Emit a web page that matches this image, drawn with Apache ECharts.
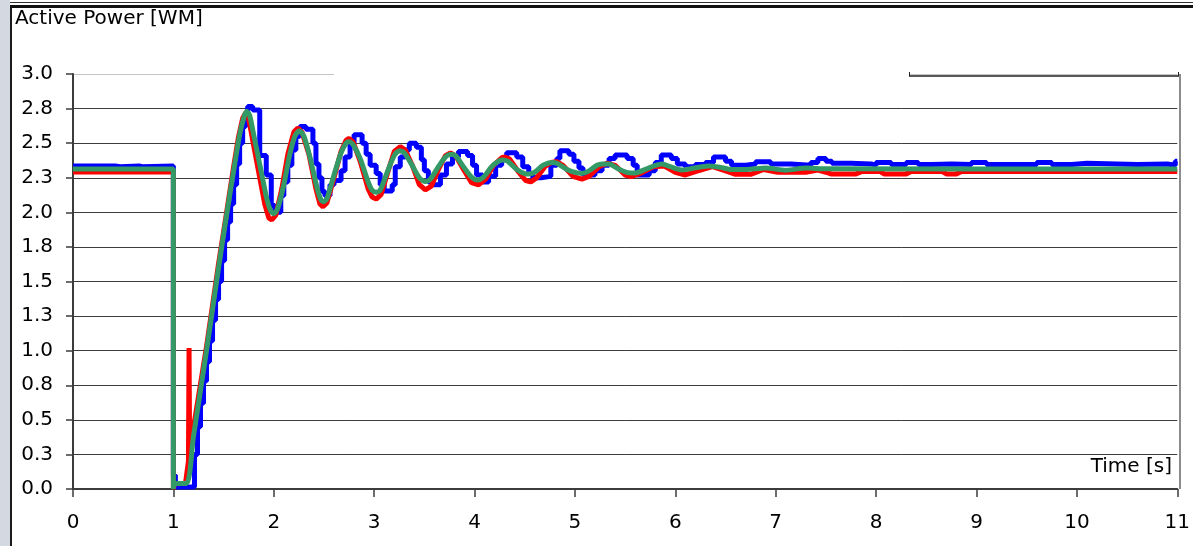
<!DOCTYPE html>
<html>
<head>
<meta charset="utf-8">
<title>Active Power</title>
<script src="https://cdn.jsdelivr.net/npm/echarts@6/dist/echarts.min.js"></script>
<style>
  html, body { margin: 0; padding: 0; background: #ffffff; }
  #chart { width: 1193px; height: 546px; }
</style>
</head>
<body>
<div id="chart"></div>
<script>
// Axis tick labels (Excel-style rounding of the 0.25 steps)
const yTickLabels = ['0.0', '0.3', '0.5', '0.8', '1.0', '1.3', '1.5', '1.8', '2.0', '2.3', '2.5', '2.8', '3.0'];
const xTickLabels = ['0', '1', '2', '3', '4', '5', '6', '7', '8', '9', '10', '11'];

// Measured response (sample-and-hold), [time s, power]
const blueSeries = [
  [0, 2.335], [0.42, 2.33], [0.47, 2.335], [0.66, 2.33], [0.69, 2.335], [1.0, 0.1], [1.02, 0.015],
  [1.21, 0.25], [1.24, 0.45], [1.27, 0.62], [1.30, 0.78], [1.33, 0.92], [1.36, 1.07],
  [1.39, 1.22], [1.42, 1.37], [1.45, 1.5], [1.48, 1.65], [1.51, 1.8], [1.54, 1.93],
  [1.57, 2.06], [1.60, 2.2], [1.63, 2.35], [1.66, 2.5], [1.69, 2.62], [1.72, 2.7],
  [1.74, 2.765], [1.79, 2.74], [1.86, 2.41], [1.925, 2.27], [1.975, 2.05], [2.01, 2.0],
  [2.07, 2.12], [2.10, 2.22], [2.14, 2.34], [2.18, 2.45], [2.22, 2.55], [2.26, 2.62],
  [2.32, 2.60], [2.39, 2.50], [2.42, 2.35], [2.45, 2.25], [2.48, 2.15], [2.51, 2.12],
  [2.56, 2.2], [2.60, 2.23], [2.67, 2.30], [2.71, 2.40], [2.76, 2.50], [2.80, 2.56],
  [2.88, 2.50], [2.92, 2.42], [2.96, 2.34], [3.02, 2.28], [3.06, 2.2], [3.10, 2.155],
  [3.18, 2.2], [3.21, 2.33], [3.26, 2.40], [3.31, 2.45], [3.35, 2.50], [3.42, 2.47],
  [3.47, 2.38], [3.50, 2.30], [3.54, 2.22], [3.58, 2.20], [3.66, 2.27], [3.72, 2.35],
  [3.78, 2.40], [3.84, 2.44], [3.93, 2.41], [3.98, 2.34], [4.02, 2.27], [4.08, 2.22],
  [4.14, 2.26], [4.21, 2.34], [4.27, 2.39], [4.32, 2.43], [4.42, 2.40], [4.48, 2.33],
  [4.54, 2.28], [4.58, 2.25], [4.66, 2.26], [4.76, 2.34], [4.82, 2.39], [4.85, 2.445],
  [4.94, 2.42], [4.99, 2.37], [5.04, 2.32], [5.08, 2.27], [5.2, 2.30], [5.27, 2.34],
  [5.34, 2.39], [5.40, 2.415], [5.52, 2.39], [5.58, 2.34], [5.62, 2.27], [5.74, 2.30],
  [5.8, 2.36], [5.86, 2.415], [5.96, 2.39], [6.02, 2.35], [6.1, 2.33], [6.2, 2.345],
  [6.3, 2.36], [6.38, 2.40], [6.5, 2.37], [6.56, 2.34], [6.7, 2.35], [6.8, 2.366],
  [6.95, 2.35], [7.15, 2.34], [7.35, 2.36], [7.42, 2.39], [7.5, 2.37], [7.56, 2.355],
  [7.75, 2.35], [7.95, 2.34], [8.0, 2.36], [8.15, 2.345], [8.3, 2.36], [8.42, 2.345],
  [8.55, 2.35], [8.75, 2.345], [8.95, 2.36], [9.1, 2.345], [9.6, 2.36], [9.75, 2.345],
  [9.95, 2.355], [10.1, 2.345], [10.6, 2.35], [10.9, 2.34], [10.98, 2.37], [11, 2.37]
];

// Detailed model response, [time s, power]
const redSeries = [
  [0, 2.292], [1.0, 2.292], [1.0, 0.0], [1.01, 0.04], [1.12, 0.04], [1.15, 0.2],
  [1.156, 1.02], [1.162, 0.27], [1.33, 1.03], [1.45, 1.63], [1.53, 2.0], [1.60, 2.33],
  [1.65, 2.55], [1.69, 2.68], [1.72, 2.72], [1.75, 2.68], [1.79, 2.52], [1.85, 2.29],
  [1.91, 2.06], [1.95, 1.96], [1.98, 1.945], [2.02, 1.98], [2.08, 2.17], [2.14, 2.42],
  [2.20, 2.58], [2.24, 2.61], [2.28, 2.58], [2.35, 2.42], [2.42, 2.17], [2.46, 2.06],
  [2.49, 2.04], [2.53, 2.07], [2.60, 2.25], [2.67, 2.44], [2.72, 2.52], [2.75, 2.535],
  [2.79, 2.51], [2.86, 2.37], [2.94, 2.17], [2.98, 2.11], [3.02, 2.096], [3.07, 2.13],
  [3.14, 2.3], [3.20, 2.44], [3.26, 2.475], [3.31, 2.45], [3.38, 2.34], [3.45, 2.2],
  [3.51, 2.163], [3.57, 2.19], [3.64, 2.31], [3.71, 2.41], [3.76, 2.43], [3.81, 2.41],
  [3.89, 2.31], [3.97, 2.215], [4.04, 2.198], [4.11, 2.24], [4.19, 2.34], [4.27, 2.395],
  [4.30, 2.40], [4.35, 2.385], [4.44, 2.29], [4.51, 2.23], [4.56, 2.22], [4.62, 2.25],
  [4.70, 2.33], [4.77, 2.362], [4.82, 2.366], [4.88, 2.34], [4.98, 2.26], [5.07, 2.24],
  [5.14, 2.26], [5.24, 2.33], [5.32, 2.355], [5.40, 2.34], [5.50, 2.27], [5.56, 2.258],
  [5.65, 2.28], [5.78, 2.33], [5.89, 2.335], [6.0, 2.29], [6.1, 2.27], [6.2, 2.295],
  [6.37, 2.33], [6.5, 2.30], [6.6, 2.275], [6.75, 2.275], [6.88, 2.31], [7.02, 2.29],
  [7.3, 2.29], [7.42, 2.305], [7.5, 2.29], [7.55, 2.278], [7.8, 2.278], [7.86, 2.295],
  [8.04, 2.295], [8.08, 2.278], [8.3, 2.278], [8.35, 2.295], [8.66, 2.295], [8.7, 2.278],
  [8.8, 2.278], [8.85, 2.295], [11, 2.295]
];

// Reduced model response, [time s, power]
const greenSeries = [
  [0, 2.313], [1.0, 2.313], [1.0, 0.0], [1.01, 0.04], [1.13, 0.04], [1.20, 0.38],
  [1.33, 1.0], [1.45, 1.6], [1.53, 1.98], [1.60, 2.3], [1.66, 2.56], [1.70, 2.68],
  [1.73, 2.73], [1.76, 2.70], [1.80, 2.56], [1.865, 2.33], [1.93, 2.1], [1.97, 2.01],
  [2.0, 1.99], [2.04, 2.03], [2.10, 2.2], [2.16, 2.42], [2.21, 2.55], [2.255, 2.59],
  [2.30, 2.55], [2.36, 2.4], [2.43, 2.18], [2.47, 2.09], [2.495, 2.077], [2.53, 2.1],
  [2.60, 2.27], [2.67, 2.43], [2.72, 2.50], [2.75, 2.51], [2.79, 2.49], [2.86, 2.39],
  [2.94, 2.22], [2.98, 2.16], [3.02, 2.145], [3.06, 2.16], [3.13, 2.29], [3.20, 2.41],
  [3.25, 2.446], [3.30, 2.43], [3.37, 2.35], [3.45, 2.25], [3.51, 2.222], [3.56, 2.24],
  [3.64, 2.33], [3.71, 2.40], [3.76, 2.42], [3.81, 2.41], [3.89, 2.33], [3.97, 2.255],
  [4.03, 2.234], [4.09, 2.255], [4.17, 2.33], [4.24, 2.37], [4.28, 2.378], [4.33, 2.37],
  [4.42, 2.31], [4.50, 2.28], [4.54, 2.277], [4.60, 2.29], [4.68, 2.34], [4.74, 2.358],
  [4.77, 2.36], [4.82, 2.355], [4.92, 2.31], [5.02, 2.285], [5.07, 2.282], [5.14, 2.30],
  [5.22, 2.34], [5.27, 2.35], [5.34, 2.35], [5.43, 2.315], [5.53, 2.287], [5.60, 2.285],
  [5.70, 2.31], [5.80, 2.34], [5.87, 2.35], [5.95, 2.33], [6.06, 2.306], [6.15, 2.315],
  [6.33, 2.335], [6.45, 2.325], [6.56, 2.31], [6.7, 2.31], [6.9, 2.32], [7.1, 2.305],
  [7.3, 2.32], [7.5, 2.315], [11, 2.313]
];

const FONT = 'DejaVu Sans';
const chart = echarts.init(document.getElementById('chart'), null, { renderer: 'canvas' });

// Grid line colours, bottom to top; the top line is a faint frame edge
const splitColors = yTickLabels.map((_, i) => (i === yTickLabels.length - 1 ? '#c4c4c4' : '#3c3c3c'));

chart.setOption({
  animation: false,
  backgroundColor: '#ffffff',
  grid: { left: 73, right: 13, top: 74, bottom: 57, containLabel: false },
  xAxis: {
    type: 'value',
    min: 0,
    max: 11,
    interval: 1,
    axisLine: { show: true, onZero: false, lineStyle: { color: '#3c3c3c', width: 2 } },
    axisTick: { show: true, inside: false, length: 8, lineStyle: { color: '#3c3c3c', width: 1.5 } },
    axisLabel: {
      margin: 24,
      fontFamily: FONT,
      fontSize: 20,
      color: '#000000',
      formatter: (v) => xTickLabels[Math.round(v)]
    },
    splitLine: { show: false }
  },
  yAxis: {
    type: 'value',
    min: 0,
    max: 3,
    interval: 0.25,
    axisLine: { show: true, lineStyle: { color: '#3c3c3c', width: 2 } },
    axisTick: { show: true, inside: false, length: 7, lineStyle: { color: '#3c3c3c', width: 1.5 } },
    axisLabel: {
      margin: 20,
      fontFamily: FONT,
      fontSize: 20,
      color: '#000000',
      formatter: (v) => yTickLabels[Math.round(v / 0.25)]
    },
    splitLine: { show: true, lineStyle: { color: splitColors, width: 1 } }
  },
  series: [
    {
      name: 'Measured',
      type: 'line',
      step: 'end',
      data: blueSeries,
      showSymbol: false,
      lineStyle: { color: '#0000ff', width: 5 },
      z: 2
    },
    {
      name: 'Detailed',
      type: 'line',
      data: redSeries,
      showSymbol: false,
      lineStyle: { color: '#ff0000', width: 5 },
      z: 3
    },
    {
      name: 'Reduced',
      type: 'line',
      data: greenSeries,
      smooth: 0.25,
      showSymbol: false,
      lineStyle: { color: '#339966', width: 5 },
      z: 4
    }
  ],
  graphic: [
    // window frame: left strip and top double rule
    { type: 'rect', shape: { x: 0, y: 0, width: 10, height: 546 }, style: { fill: '#d4d8e0' }, silent: true },
    { type: 'rect', shape: { x: 10, y: 6, width: 2, height: 540 }, style: { fill: '#1a1a1a' }, silent: true },
    { type: 'rect', shape: { x: 10, y: 2, width: 1183, height: 1 }, style: { fill: '#333333' }, silent: true },
    { type: 'rect', shape: { x: 10, y: 5, width: 1183, height: 3 }, style: { fill: '#111111' }, silent: true },
    // top edge of the plot area
    { type: 'rect', shape: { x: 334, y: 72, width: 575, height: 4 }, style: { fill: '#ffffff' }, silent: true, z: 10 },
    { type: 'line', shape: { x1: 909, y1: 76, x2: 1179, y2: 76 }, style: { stroke: '#222222', lineWidth: 1.5 }, silent: true, z: 11 },
    { type: 'line', shape: { x1: 909.5, y1: 72, x2: 909.5, y2: 76 }, style: { stroke: '#222222', lineWidth: 1 }, silent: true, z: 11 },
    { type: 'line', shape: { x1: 1178.5, y1: 72, x2: 1178.5, y2: 76 }, style: { stroke: '#222222', lineWidth: 1 }, silent: true, z: 11 },
    // right edge of the plot area
    { type: 'line', shape: { x1: 1180, y1: 74, x2: 1180, y2: 489 }, style: { stroke: '#8c8c8c', lineWidth: 2 }, silent: true, z: 11 },
    // titles
    {
      type: 'text', left: 15, top: 9,
      style: { text: 'Active Power [WM]', fontFamily: FONT, fontSize: 20, fill: '#000000' },
      silent: true, z: 12
    },
    {
      type: 'text', right: 21, top: 457,
      style: { text: 'Time [s]', fontFamily: FONT, fontSize: 20, fill: '#000000' },
      silent: true, z: 12
    }
  ]
});
</script>
</body>
</html>
